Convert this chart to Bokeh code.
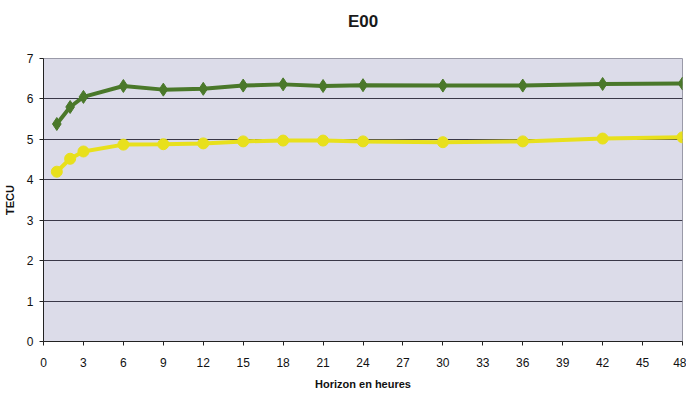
from bokeh.plotting import figure
from bokeh.embed import file_html
from bokeh.resources import INLINE
from bokeh.models import FixedTicker, Range1d, Title

hours = [1, 2, 3, 6, 9, 12, 15, 18, 21, 24, 30, 36, 42, 48]
green_tecu = [5.38, 5.80, 6.05, 6.32, 6.23, 6.25, 6.33, 6.36, 6.32, 6.34, 6.33, 6.33, 6.37, 6.38]
yellow_tecu = [4.20, 4.52, 4.70, 4.87, 4.88, 4.90, 4.95, 4.97, 4.97, 4.95, 4.93, 4.95, 5.02, 5.05]
x_ticks = list(range(0, 49, 3))
y_ticks = list(range(0, 8))
title_text = "E00"

p = figure(output_backend="svg", toolbar_location=None,
           x_range=Range1d(0, 48), y_range=Range1d(0, 7),
           frame_width=639, frame_height=283,
           min_border_left=43, min_border_right=4, min_border_top=58, min_border_bottom=44)

# spacer (closest to the frame) then the chart title
p.add_layout(Title(text=" ", text_font_size="17px", standoff=2), "above")
p.add_layout(Title(text=title_text, align="center", standoff=10,
                   text_font="Liberation Sans", text_font_size="17px", text_font_style="bold",
                   text_color="#1a1a1a"), "above")

p.background_fill_color = "#dcdce9"
p.border_fill_color = "white"
p.outline_line_color = "#9a9aa8"

p.xgrid.visible = False
p.ygrid.ticker = FixedTicker(ticks=y_ticks)
p.ygrid.grid_line_color = "#3a3848"
p.ygrid.grid_line_width = 1

for ax in (p.xaxis, p.yaxis):
    ax.axis_line_color = "#222222"
    ax.major_tick_line_color = "#222222"
    ax.minor_tick_line_color = None
    ax.major_label_text_font = "Liberation Sans"
    ax.major_label_text_font_size = "12px"
    ax.major_label_text_color = "#111111"
    ax.axis_label_text_font = "Liberation Sans"
    ax.axis_label_text_font_style = "bold"
    ax.axis_label_text_font_size = "11px"
    ax.axis_label_text_color = "#111111"
    ax.major_tick_in = 0
    ax.major_tick_out = 4

p.xaxis.ticker = FixedTicker(ticks=x_ticks)
p.yaxis.ticker = FixedTicker(ticks=y_ticks)
p.xaxis.axis_label = "Horizon en heures"
p.yaxis.axis_label = "TECU"
p.xaxis.major_label_standoff = 12
p.xaxis.axis_label_standoff = 8
p.yaxis.major_label_standoff = 6
p.yaxis.axis_label_standoff = 8

p.line(hours, green_tecu, line_color="#4a782a", line_width=4)
p.scatter(hours, green_tecu, marker="diamond", size=13, fill_color="#4a782a", line_color="#4a782a")
p.line(hours, yellow_tecu, line_color="#e8e01c", line_width=4)
p.scatter(hours, yellow_tecu, marker="circle", size=11, fill_color="#e8e01c", line_color="#e8e01c")

open("out.html", "w").write(file_html(p, INLINE))
